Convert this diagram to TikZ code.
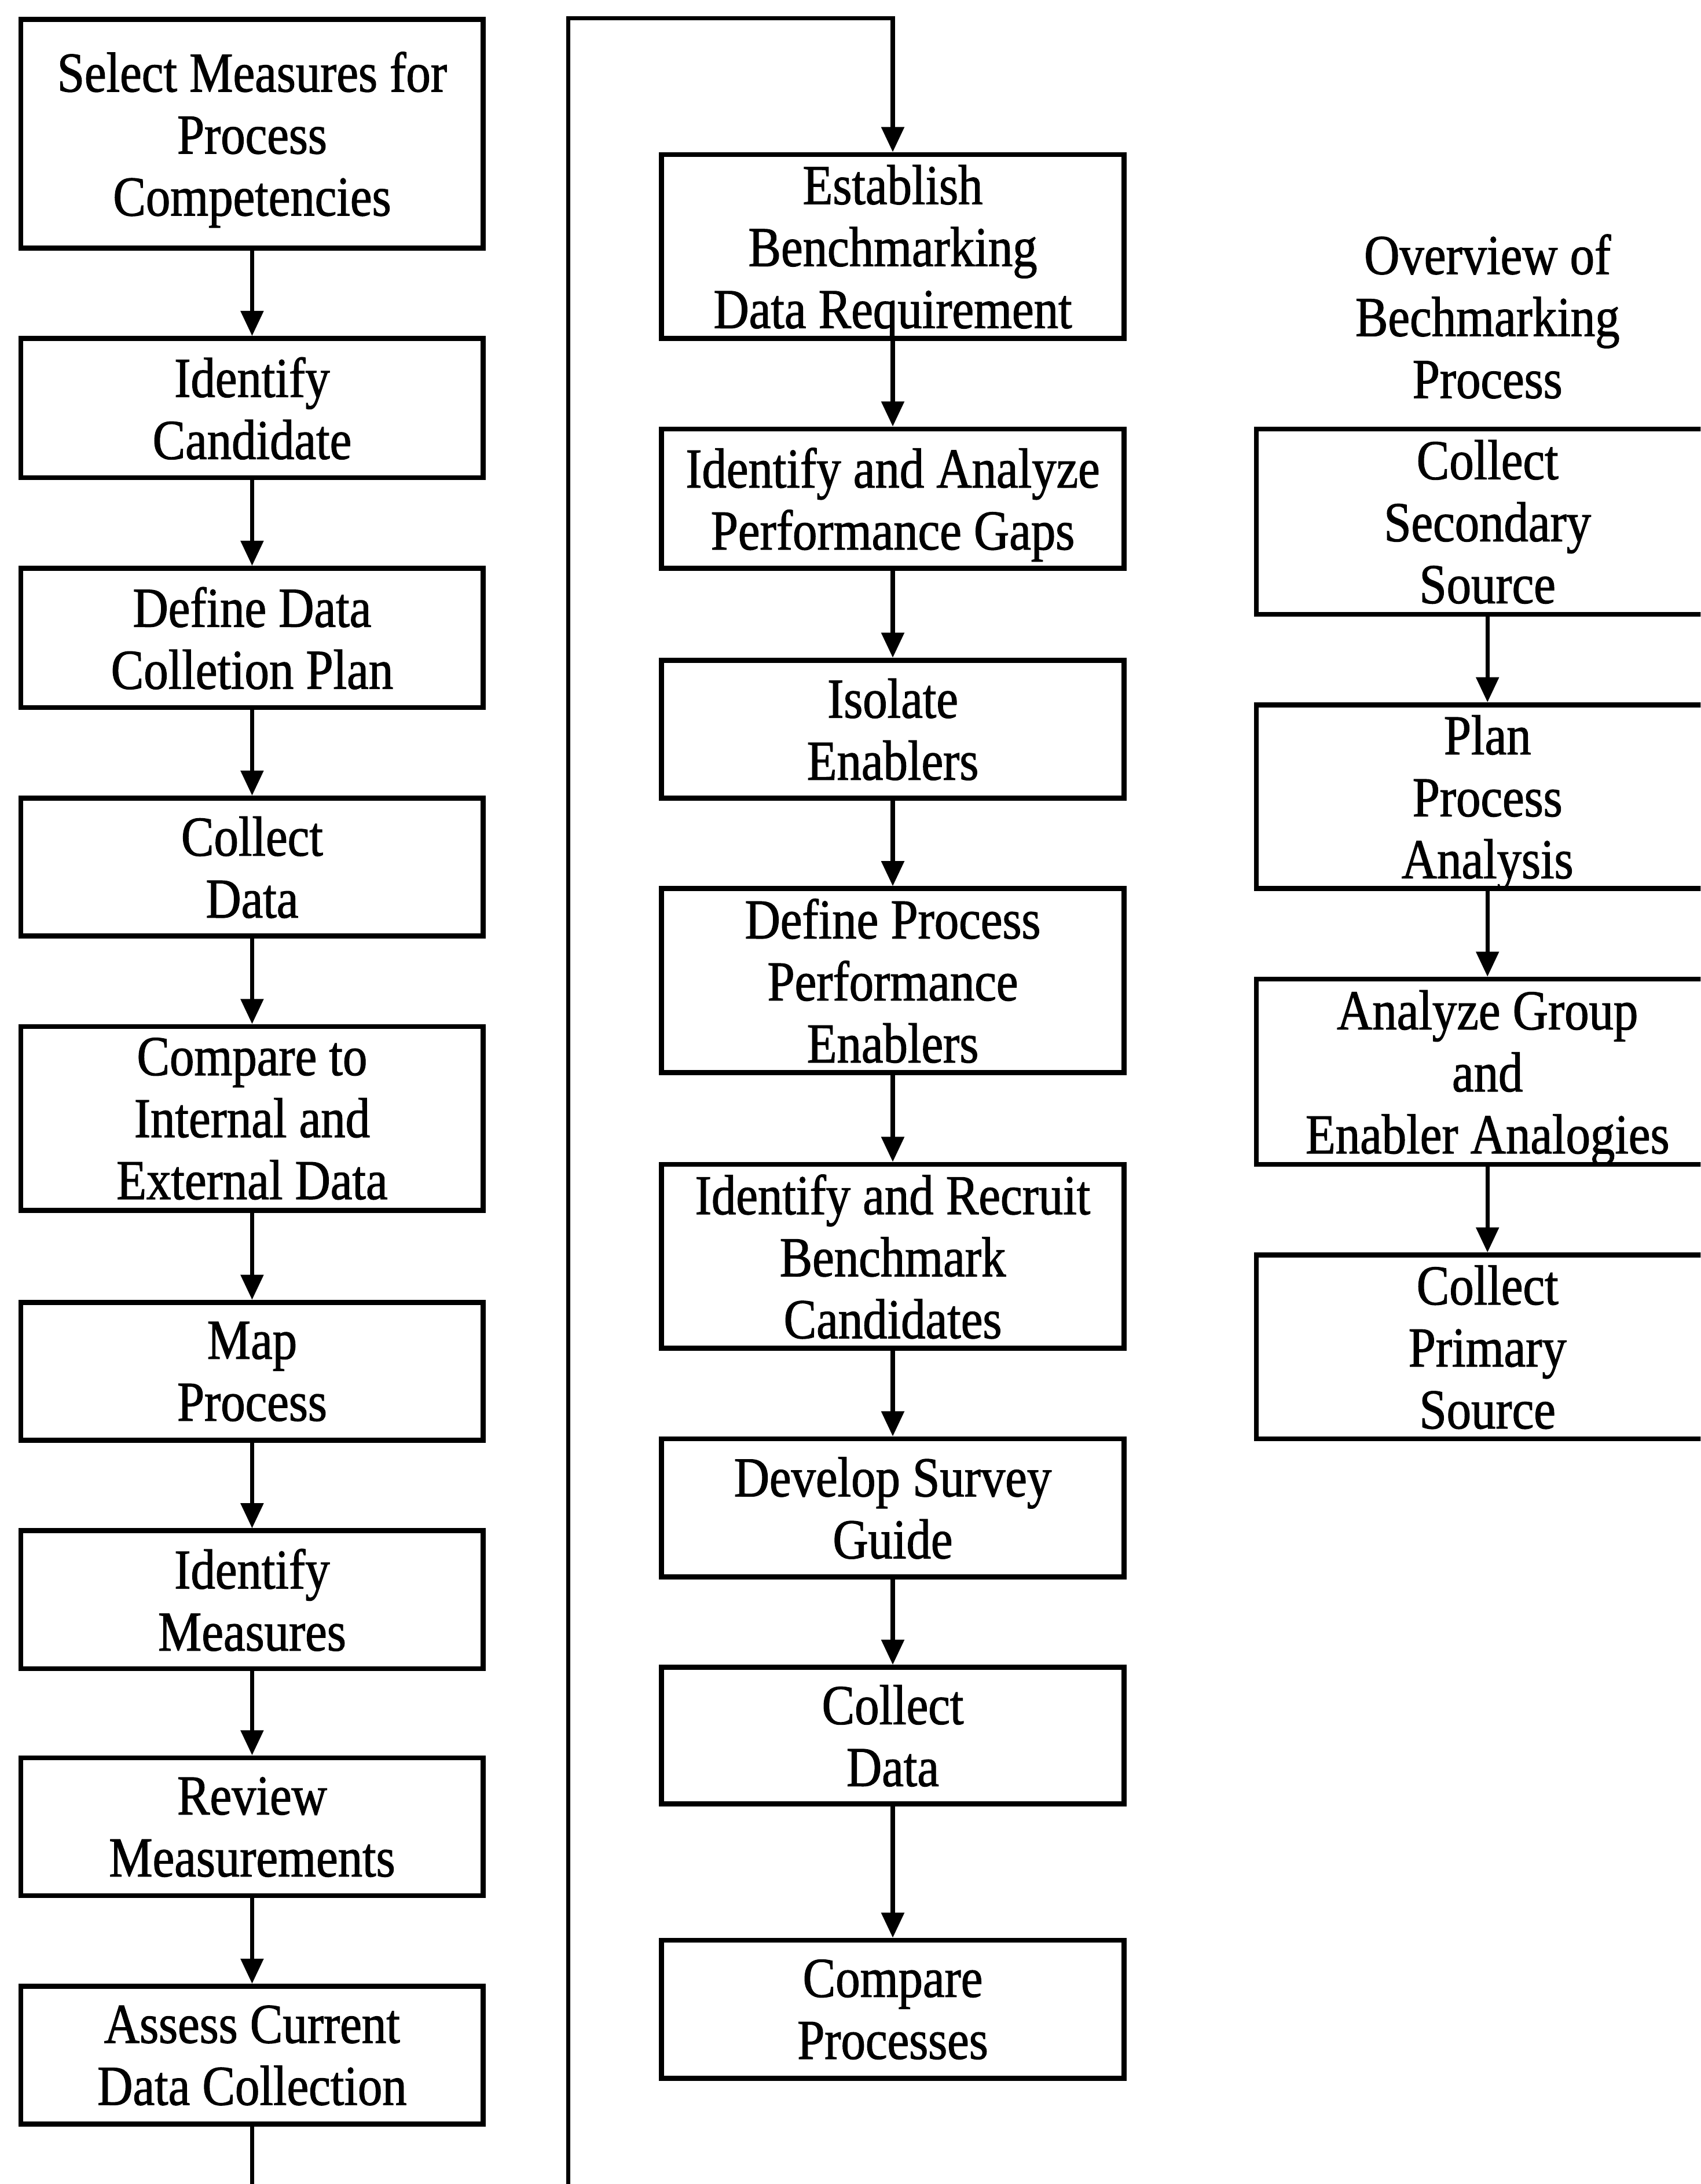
\documentclass[tikz,border=0pt]{standalone}
\usepackage{fontspec}
\setmainfont[FakeStretch=0.87,FakeBold=1.2]{Liberation Serif}
\usetikzlibrary{arrows.meta}
\begin{document}
\begin{tikzpicture}[x=1pt,y=-1pt,
  stepbox/.style={draw, line width=3.6pt, minimum width=332pt, inner sep=0pt, align=center,
    text depth=0pt, font=\fontsize{40.5}{44.5}\selectfont},
  titletext/.style={inner sep=0pt, align=center, text depth=0pt, font=\fontsize{40.5}{44.5}\selectfont},
  conn/.style={line width=3pt},
  arr/.style={conn, -{Triangle[length=18pt,width=16pt]}}]
\useasboundingbox (0,0) rectangle (1221,1568);
\clip (0,0) rectangle (1221,1568);
% left column
\node[stepbox, minimum height=164pt] (L1) at (181,96) {Select Measures for\\Process\\Competencies};
\node[stepbox, minimum height=100pt] (L2) at (181,293) {Identify\\Candidate};
\node[stepbox, minimum height=100pt] (L3) at (181,458) {Define Data\\Colletion Plan};
\node[stepbox, minimum height=99pt] (L4) at (181,622.5) {Collect\\Data};
\node[stepbox, minimum height=132pt] (L5) at (181,803) {Compare to\\Internal and\\External Data};
\node[stepbox, minimum height=99pt] (L6) at (181,984.5) {Map\\Process};
\node[stepbox, minimum height=99pt] (L7) at (181,1148.5) {Identify\\Measures};
\node[stepbox, minimum height=99pt] (L8) at (181,1311.5) {Review\\Measurements};
\node[stepbox, minimum height=99pt] (L9) at (181,1475.5) {Assess Current\\Data Collection};
% middle column
\node[stepbox, minimum height=132pt] (M1) at (641,177) {Establish\\Benchmarking\\Data Requirement};
\node[stepbox, minimum height=100pt] (M2) at (641,358) {Identify and Analyze\\Performance Gaps};
\node[stepbox, minimum height=99pt] (M3) at (641,523.5) {Isolate\\Enablers};
\node[stepbox, minimum height=132pt] (M4) at (641,704) {Define Process\\Performance\\Enablers};
\node[stepbox, minimum height=132pt] (M5) at (641,902) {Identify and Recruit\\Benchmark\\Candidates};
\node[stepbox, minimum height=99pt] (M6) at (641,1082.5) {Develop Survey\\Guide};
\node[stepbox, minimum height=98pt] (M7) at (641,1246) {Collect\\Data};
\node[stepbox, minimum height=99pt] (M8) at (641,1442.5) {Compare\\Processes};
% right column
\node[titletext] (T) at (1068,227) {Overview of\\Bechmarking\\Process};
\node[stepbox, minimum height=133pt] (R1) at (1068,374.5) {Collect\\Secondary\\Source};
\node[stepbox, minimum height=132pt] (R2) at (1068,572) {Plan\\Process\\Analysis};
\node[stepbox, minimum height=133pt] (R3) at (1068,769.5) {Analyze Group\\and\\Enabler Analogies};
\node[stepbox, minimum height=132pt] (R4) at (1068,967) {Collect\\Primary\\Source};
% connectors
\foreach \a/\b in {L1/L2,L2/L3,L3/L4,L4/L5,L5/L6,L6/L7,L7/L8,L8/L9,
                   M1/M2,M2/M3,M3/M4,M4/M5,M5/M6,M6/M7,M7/M8,
                   R1/R2,R2/R3,R3/R4}
  \draw[arr] (\a.south) -- (\b.north);
\coordinate (lbot) at (181,1570);
\coordinate (mbot) at (408,1570);
\coordinate (mtop) at (408,13);
\draw[conn] (L9.south) -- (lbot);
\draw[arr] (mbot) -- (mtop) -| (M1.north);
\end{tikzpicture}
\end{document}
